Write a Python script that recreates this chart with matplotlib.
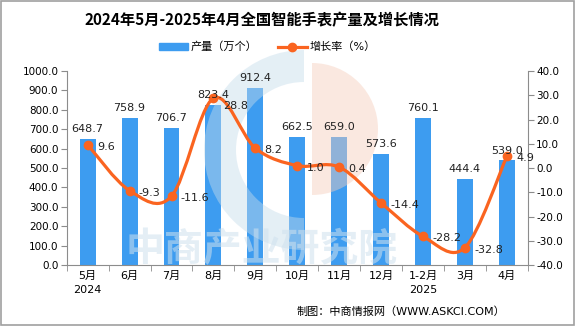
import numpy as np
import matplotlib
matplotlib.use("Agg")
import matplotlib.pyplot as plt
from matplotlib.patches import Rectangle, Wedge
from matplotlib.lines import Line2D
from matplotlib.path import Path
from matplotlib.patches import PathPatch

plt.rcParams['font.family'] = ['DejaVu Sans', 'Noto Sans CJK SC']
plt.rcParams['axes.unicode_minus'] = False

# Data
months = ["5月\n2024", "6月", "7月", "8月", "9月", "10月", "11月", "12月", "1-2月\n2025", "3月", "4月"]
output = [648.7, 758.9, 706.7, 823.4, 912.4, 662.5, 659.0, 573.6, 760.1, 444.4, 539.0]
growth = [9.6, -9.3, -11.6, 28.8, 8.2, 1.0, 0.4, -14.4, -28.2, -32.8, 4.9]

BAR_COLOR = "#3d9cf0"
LINE_COLOR = "#fa6420"
AXIS_COLOR = "#8c8c8c"

fig = plt.figure(figsize=(5.75, 3.26), dpi=100)
ax = fig.add_axes([0.116, 0.187, 0.802, 0.595])
ax2 = ax.twinx()

x = np.arange(len(months))

# Bars (production)
ax.bar(x, output, width=0.38, color=BAR_COLOR, zorder=1)

ax.set_ylim(0, 1000)
ax.set_yticks(np.arange(0, 1001, 100))
ax.set_yticklabels([f"{t:.1f}" for t in np.arange(0, 1001, 100)], fontsize=7.5)
ax.set_xlim(-0.5, len(months) - 0.5)
ax.set_xticks(x)
ax.set_xticklabels(months, fontsize=8, linespacing=1.5)
ax.set_xticks(np.arange(-0.5, len(months), 1), minor=True)
ax.tick_params(axis="x", which="major", length=0, pad=4)
ax.tick_params(axis="x", which="minor", length=4, color=AXIS_COLOR, direction="out")
ax.tick_params(axis="y", length=4, color=AXIS_COLOR, direction="out", pad=2)

ax2.set_ylim(-40, 40)
ax2.set_yticks(np.arange(-40, 41, 10))
ax2.set_yticklabels([f"{t:.1f}" for t in np.arange(-40, 41, 10)], fontsize=7.5)
ax2.tick_params(axis="y", length=4, color=AXIS_COLOR, direction="out", pad=2)

for a in (ax, ax2):
    a.spines["top"].set_visible(False)
    for side in ("left", "right", "bottom"):
        a.spines[side].set_color(AXIS_COLOR)
ax.spines["right"].set_visible(False)
ax2.spines["left"].set_visible(False)
ax2.spines["bottom"].set_visible(False)

# Bar value labels (drawn on the top axes so they stay above the watermark)
for xi, v in zip(x, output):
    ax2.text(xi, v + 25, f"{v:.1f}", ha="center", va="bottom", fontsize=8, color="#222222",
             zorder=6, transform=ax.transData)

# Smoothed growth-rate curve (cubic Bezier segments through each point)
def smooth_path(xs, ys, t=1.0 / 6.0):
    xs = np.asarray(xs, float)
    ys = np.asarray(ys, float)
    n = len(xs)
    verts = [(xs[0], ys[0])]
    codes = [Path.MOVETO]
    for i in range(n - 1):
        p0 = i - 1 if i > 0 else i
        p3 = i + 2 if i + 2 < n else i + 1
        c1 = (xs[i] + (xs[i + 1] - xs[p0]) * t, ys[i] + (ys[i + 1] - ys[p0]) * t)
        c2 = (xs[i + 1] - (xs[p3] - xs[i]) * t, ys[i + 1] - (ys[p3] - ys[i]) * t)
        verts += [c1, c2, (xs[i + 1], ys[i + 1])]
        codes += [Path.CURVE4] * 3
    return Path(verts, codes)

ax2.add_patch(PathPatch(smooth_path(x, growth), facecolor="none", edgecolor=LINE_COLOR,
                        lw=2.3, zorder=4, capstyle="round"))
ax2.plot(x, growth, "o", color=LINE_COLOR, ms=6, zorder=5)
for i, (xi, v) in enumerate(zip(x, growth)):
    # the peak label sits a little lower so it clears the bar label above it
    dy = -3.2 if i == 3 else -0.8
    ax2.text(xi + 0.22, v + dy, f"{v:.1f}", ha="left", va="center", fontsize=8, color="#222222", zorder=6)

ax.set_zorder(1)
ax2.set_zorder(3)
ax.patch.set_visible(False)
ax2.patch.set_visible(False)

# Watermark logo and text
wm = fig.add_axes([0, 0, 1, 1], zorder=2)
wm.set_xlim(0, 575)
wm.set_ylim(326, 0)
wm.axis("off")
wm.patch.set_visible(False)
wm.add_patch(Wedge((304, 150), 100, 90, 270, width=32, facecolor="#c5dceb", alpha=0.45, lw=0))
wm.add_patch(Wedge((312, 129), 66, -90, 90, facecolor="#f6cdbb", alpha=0.45, lw=0))
wm.text(262, 250, "中商产业研究院", ha="center", va="center", fontsize=28, fontweight="bold",
        color="#cfe1ee", alpha=0.55, family=["Noto Sans CJK SC"])

# Title, legend, credit
fig.text(0.455, 0.939, "2024年5月-2025年4月全国智能手表产量及增长情况", ha="center", va="center",
         fontsize=11, fontweight="bold", family=["Noto Sans CJK SC", "DejaVu Sans"])
handles = [Rectangle((0, 0), 1, 1, color=BAR_COLOR),
           Line2D([0], [0], color=LINE_COLOR, lw=2.3, marker="o", ms=6)]
fig.legend(handles, ["产量（万个）", "增长率（%）"], loc="center", bbox_to_anchor=(0.465, 0.856),
           ncol=2, frameon=False, fontsize=8, handlelength=2.6, handleheight=0.6,
           columnspacing=1.8, handletextpad=0.3)
fig.text(0.878, 0.043, "制图：中商情报网（WWW.ASKCI.COM）", ha="right", va="center", fontsize=8)

fig.add_artist(Rectangle((0.001, 0.002), 0.997, 0.995, transform=fig.transFigure,
                         fill=False, edgecolor="#a0a0a0", lw=1.2))

fig.savefig("out.png", dpi=100)
